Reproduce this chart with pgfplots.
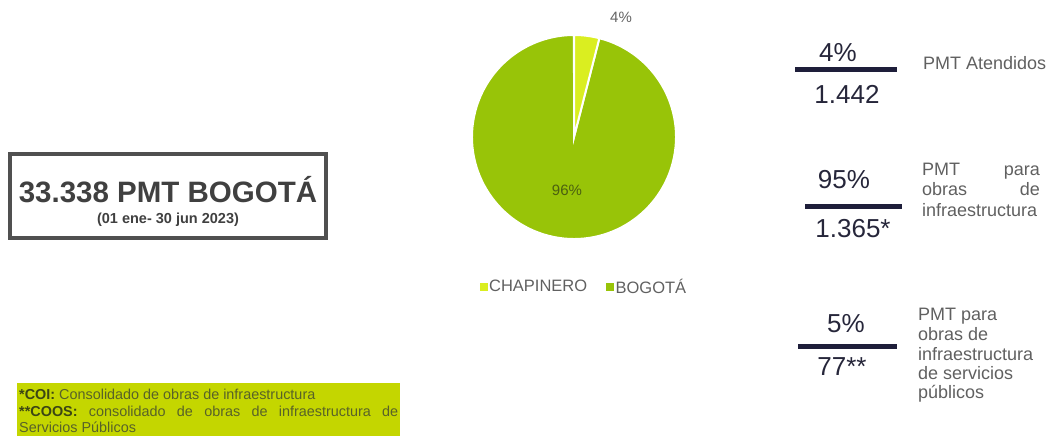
\documentclass[border=0pt]{standalone}
\usepackage{pgfplots}
\usepackage{pgfplotstable}
\pgfplotsset{compat=1.18}
\usepackage{fontspec}
\setmainfont{Liberation Sans}
\definecolor{bogota}{RGB}{152,196,8}
\definecolor{chapinero}{RGB}{218,238,32}
\definecolor{navy}{RGB}{30,30,58}
\definecolor{numtxt}{RGB}{38,38,58}
\definecolor{lbltxt}{RGB}{96,96,96}
\definecolor{boxgray}{RGB}{80,80,80}
\definecolor{titlegray}{RGB}{64,64,64}
\definecolor{notegreen}{RGB}{196,214,0}
\definecolor{notetxt}{RGB}{88,98,40}
\definecolor{notebold}{RGB}{60,70,20}
\definecolor{piegray}{RGB}{100,100,100}
\definecolor{pieinner}{RGB}{75,96,16}

\pgfplotstableread{
name value
CHAPINERO 4
BOGOTA 96
}\piedata

\begin{document}
\begin{tikzpicture}[x=1pt,y=1pt]
\useasboundingbox (0,0) rectangle (1058,436);
\pgfplotstablegetelem{0}{value}\of\piedata \edef\vA{\pgfplotsretval}
\pgfplotstablegetelem{1}{value}\of\piedata \edef\vB{\pgfplotsretval}
\pgfmathsetmacro\tot{\vA+\vB}
\pgfmathsetmacro\fA{\vA/\tot}
\pgfmathsetmacro\fB{\vB/\tot}
\pgfmathsetmacro\aA{90-360*\fA}
\pgfmathsetmacro\aB{\aA-360*\fB}

% left title box
\draw[boxgray, line width=4] (10,198) rectangle (326,282);
\node[anchor=base, inner sep=0, font=\bfseries\fontsize{29.5}{32}\selectfont, text=titlegray] at (168,233.5) {33.338 PMT BOGOTÁ};
\node[anchor=base, inner sep=0, font=\bfseries\fontsize{14.5}{16}\selectfont, text=titlegray] at (168,212) {(01 ene- 30 jun 2023)};

% pie
\begin{axis}[at={(574pt,299pt)}, anchor=origin, scale only axis,
  width=204pt, height=204pt, xmin=-1, xmax=1, ymin=-1, ymax=1,
  hide axis, clip=false,
  legend columns=2,
  legend image code/.code={\fill[#1] (0pt,-3.5pt) rectangle (7pt,3.5pt);},
  legend style={at={(axis description cs:0.549,-0.235)}, anchor=center,
    draw=none, fill=none, inner sep=0pt,
    font=\fontsize{16.5}{18}\selectfont, text=lbltxt,
    /tikz/every even column/.append style={column sep=17pt}}]
\addlegendimage{chapinero}
\addlegendentry{CHAPINERO}
\addlegendimage{bogota}
\addlegendentry{BOGOTÁ}
\filldraw[fill=bogota, draw=white, line width=2pt] (axis cs:0,0) -- (axis cs:{cos(\aA)},{sin(\aA)}) arc[start angle=\aA, end angle=\aB, radius=102pt] -- cycle;
\filldraw[fill=chapinero, draw=white, line width=2pt] (axis cs:0,0) -- (axis cs:0,1) arc[start angle=90, end angle=\aA, radius=102pt] -- cycle;
\node[font=\fontsize{15}{17}\selectfont, text=piegray] at (axis cs:0.461,1.176) {4\%};
\node[font=\fontsize{15}{17}\selectfont, text=pieinner] at (axis cs:-0.069,-0.52) {96\%};
\end{axis}

% right block 1
\node[anchor=base, inner sep=0, font=\fontsize{26}{28}\selectfont, text=numtxt] at (838,374) {4\%};
\draw[navy, line width=5] (795,366) -- (897,366);
\node[anchor=base, inner sep=0, font=\fontsize{26}{28}\selectfont, text=numtxt] at (847,332) {1.442};
\node[anchor=base west, inner sep=0, font=\fontsize{18}{20}\selectfont, text=lbltxt] at (923,366.5) {PMT Atendidos};

% right block 2
\node[anchor=base, inner sep=0, font=\fontsize{26}{28}\selectfont, text=numtxt] at (844,247) {95\%};
\draw[navy, line width=5] (805,229) -- (902,229);
\node[anchor=base, inner sep=0, font=\fontsize{26}{28}\selectfont, text=numtxt] at (853,198) {1.365*};
\begin{scope}[every node/.style={inner sep=0, font=\fontsize{18}{20}\selectfont, text=lbltxt}]
\node[anchor=base west] at (922,260) {PMT};
\node[anchor=base east] at (1040,260) {para};
\node[anchor=base west] at (922,240) {obras};
\node[anchor=base east] at (1040,240) {de};
\node[anchor=base west] at (922,219) {infraestructura};
\end{scope}

% right block 3
\node[anchor=base, inner sep=0, font=\fontsize{26}{28}\selectfont, text=numtxt] at (846,103) {5\%};
\draw[navy, line width=5] (798,89) -- (897,89);
\node[anchor=base, inner sep=0, font=\fontsize{26}{28}\selectfont, text=numtxt] at (842,60) {77**};
\begin{scope}[every node/.style={inner sep=0, anchor=base west, font=\fontsize{18}{20}\selectfont, text=lbltxt}]
\node at (918,115) {PMT para};
\node at (918,95) {obras de};
\node at (918,75) {infraestructura};
\node at (918,56) {de servicios};
\node at (918,37) {públicos};
\end{scope}

% footnote
\fill[notegreen] (17,0) rectangle (400,53);
\node[anchor=base west, inner sep=0, text=notetxt, font=\fontsize{14.4}{16.5}\selectfont] at (19,36)
 {\begin{minipage}[t]{379pt}\hyphenpenalty=10000\exhyphenpenalty=10000\tolerance=10000
 \textcolor{notebold}{\textbf{*COI:}} Consolidado de obras de infraestructura\\
 \textcolor{notebold}{\textbf{**COOS:}} consolidado de obras de infraestructura de Servicios Públicos\end{minipage}};
\end{tikzpicture}
\end{document}
